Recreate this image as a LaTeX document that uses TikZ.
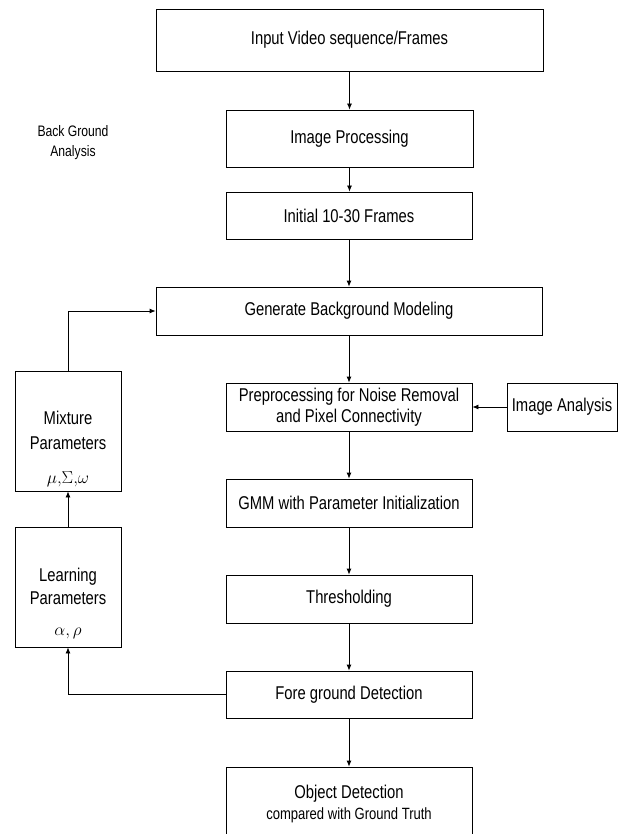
\documentclass[tikz,border=0pt]{standalone}
\usepackage{fontspec}
\setmainfont{Liberation Sans}[FakeStretch=0.8]
\usetikzlibrary{arrows.meta}
\begin{document}
\begin{tikzpicture}[x=1pt,y=-1pt,
  box/.style={draw, line width=0.8pt, inner sep=0pt, align=center, font=\fontsize{18.5}{21}\selectfont},
  txt/.style={inner sep=0pt, align=center, font=\fontsize{18.5}{25}\selectfont},
  arr/.style={draw, line width=0.8pt, -{Latex[length=6pt,width=5pt]}}]
\useasboundingbox (0,0) rectangle (618,834);
% main column
\node[box, minimum width=387pt, minimum height=62pt] (in) at (349.5,40) {Input Video sequence/Frames};
\node[box, minimum width=247pt, minimum height=57pt] (ip) at (349.5,138.5) {Image Processing};
\node[box, minimum width=246pt, minimum height=47pt] (init) at (349,215.5) {Initial 10-30 Frames};
\node[box, minimum width=386pt, minimum height=48pt] (gen) at (349,311) {Generate Background Modeling};
\node[box, minimum width=246pt, minimum height=48pt] (pre) at (349,407) {Preprocessing for Noise Removal\\and Pixel Connectivity};
\node[box, minimum width=110pt, minimum height=48pt] (ia) at (562,407) {Image Analysis};
\node[box, minimum width=246pt, minimum height=48pt] (gmm) at (349,503) {GMM with Parameter Initialization};
\node[box, minimum width=246pt, minimum height=48pt] (thr) at (349,599) {Thresholding};
\node[box, minimum width=246pt, minimum height=47pt] (fg) at (349,694.5) {Fore ground Detection};
\node[box, minimum width=246pt, minimum height=74pt] (obj) at (349,804) {Object Detection\\{\fontsize{16.3}{19}\selectfont compared with Ground Truth}};
% side note
\node[inner sep=0pt, align=center, font=\fontsize{15.2}{20}\selectfont] (bga) at (73,143) {Back Ground\\Analysis};
% left column
\node[box, minimum width=106pt, minimum height=120pt] (mix) at (68,431) {};
\node[txt] (mixt) at (68,430.5) {Mixture\\Parameters};
\node[inner sep=0pt, font=\fontsize{16.5}{18}\selectfont] (mixm) at (68,479) {$\mu{,}\Sigma{,}\omega$};
\node[box, minimum width=106pt, minimum height=120pt] (lrn) at (68,587) {};
\node[txt, font=\fontsize{18.5}{23}\selectfont] (lrnt) at (68,586.5) {Learning\\Parameters};
\node[inner sep=0pt, font=\fontsize{16.5}{18}\selectfont] (lrnm) at (68,633) {$\alpha{,}\,\rho$};
% connectors
\draw[arr] (in.south) -- (in.south |- ip.north);
\draw[arr] (ip.south) -- (ip.south |- init.north);
\draw[arr] (init) -- (gen);
\draw[arr] (gen) -- (pre);
\draw[arr] (ia) -- (pre);
\draw[arr] (pre) -- (gmm);
\draw[arr] (gmm) -- (thr);
\draw[arr] (thr) -- (fg);
\draw[arr] (fg) -- (obj);
\draw[arr] (fg.west) -| (lrn.south);
\draw[arr] (lrn) -- (mix);
\draw[arr] (mix.north) |- (gen.west);
\end{tikzpicture}
\end{document}
